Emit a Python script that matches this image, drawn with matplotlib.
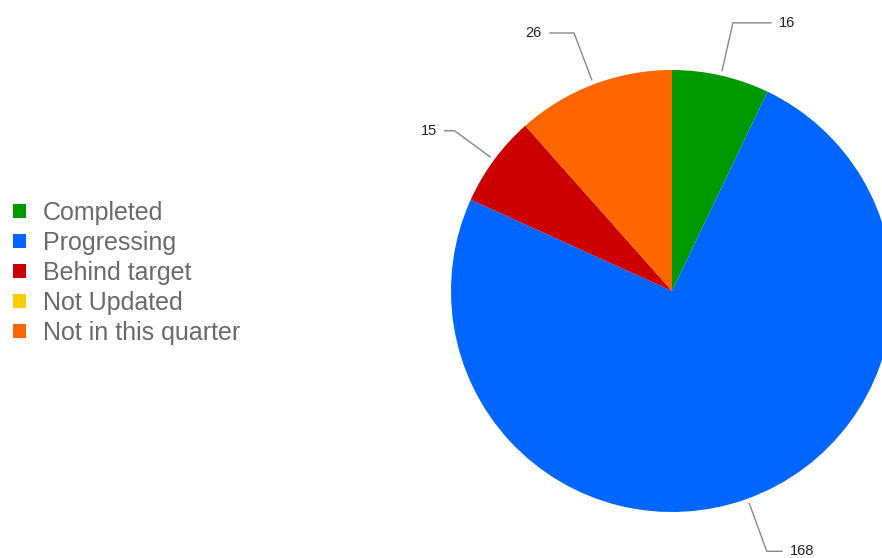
import numpy as np
import matplotlib
matplotlib.use("Agg")
import matplotlib.pyplot as plt

# Podaci
kategorije = ['Completed', 'Progressing', 'Behind target', 'Not Updated', 'Not in this quarter']
vrijednosti = [16, 168, 15, 0, 26]
boje = ['#009a00', '#0066ff', '#cc0000', '#ffcc00', '#ff6600']

# duzine linija oznaka (radijalno, horizontalno) u pikselima
radijalno = [54, 56, 49, 0, 55]
horizontalno = [38, 15, 10, 0, 24]

plt.rcParams['font.family'] = ['Liberation Sans', 'DejaVu Sans']

fig = plt.figure(figsize=(8.82, 5.58), dpi=100)
ax = fig.add_axes([0, 0, 1, 1])

# pie u pikselskim koordinatama (y prema gore)
cx, cy, r = 672, 267, 221
wedges, _ = ax.pie(vrijednosti, colors=boje, startangle=90, counterclock=False,
                   center=(cx, cy), radius=r, wedgeprops=dict(linewidth=0))

# oznake s linijama
for w, v, dl, dh in zip(wedges, vrijednosti, radijalno, horizontalno):
    if v == 0:
        continue
    ang = np.deg2rad((w.theta1 + w.theta2) / 2)
    ux, uy = np.cos(ang), np.sin(ang)
    p0 = (cx + ux * (r + 5), cy + uy * (r + 5))
    p1 = (cx + ux * (r + dl), cy + uy * (r + dl))
    sgn = 1 if ux >= 0 else -1
    p2 = (p1[0] + sgn * dh, p1[1])
    ax.plot([p0[0], p1[0], p2[0]], [p0[1], p1[1], p2[1]], color='#888888', lw=1)
    ax.text(p2[0] + sgn * 8, p2[1], str(v), fontsize=10.5, color='#222222',
            ha='left' if sgn > 0 else 'right', va='center')

ax.set_xlim(0, 882)
ax.set_ylim(0, 558)
ax.set_aspect('equal')
ax.axis('off')

leg = ax.legend(wedges, kategorije, loc='upper left', bbox_to_anchor=(13 / 882, 1 - 201 / 558),
                bbox_transform=fig.transFigure, frameon=False, fontsize=18, borderpad=0,
                handlelength=0.52, handleheight=0.52, handletextpad=0.68, labelspacing=0.24,
                borderaxespad=0)
for t in leg.get_texts():
    t.set_color('#6a6a6a')

fig.savefig('out.png', dpi=100)
